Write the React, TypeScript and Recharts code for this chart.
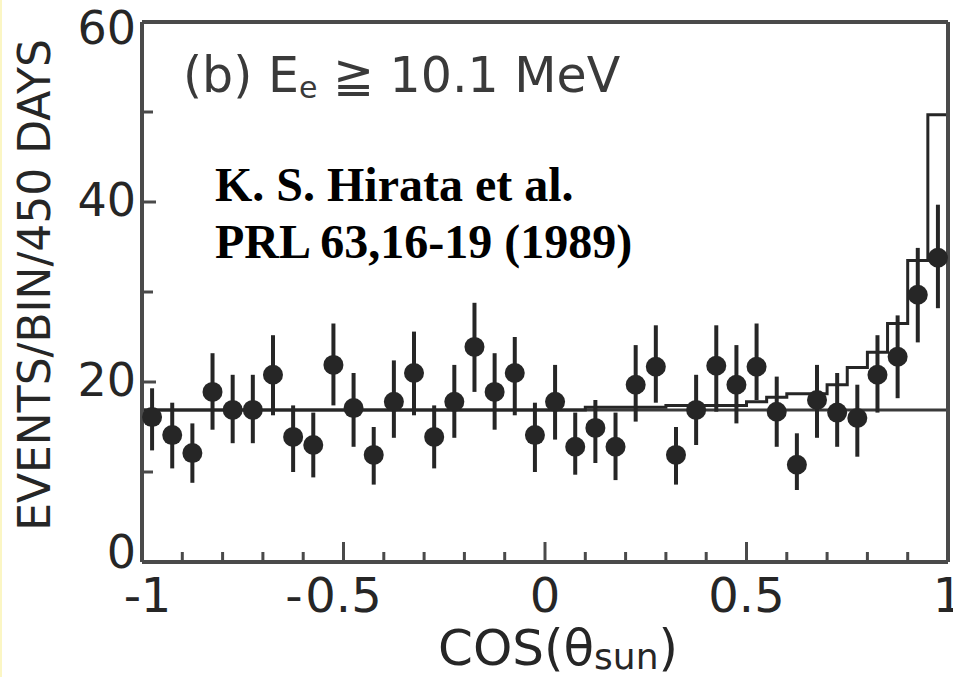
import React from 'react';
import { ComposedChart, Scatter, Line, XAxis, YAxis, ErrorBar, ReferenceLine, Customized } from 'recharts';

// cos(theta_sun) bin centres, 40 bins of width 0.05
const binCenters = [
  -0.975, -0.925, -0.875, -0.825, -0.775, -0.725, -0.675, -0.625, -0.575, -0.525,
  -0.475, -0.425, -0.375, -0.325, -0.275, -0.225, -0.175, -0.125, -0.075, -0.025,
  0.025, 0.075, 0.125, 0.175, 0.225, 0.275, 0.325, 0.375, 0.425, 0.475,
  0.525, 0.575, 0.625, 0.675, 0.725, 0.775, 0.825, 0.875, 0.925, 0.975,
];

// observed events per bin
const events = [
  16.1, 14.1, 12.1, 18.9, 16.9, 16.9, 20.8, 13.9, 13.0, 21.9,
  17.1, 11.9, 17.8, 21.0, 13.9, 17.8, 23.9, 18.9, 21.0, 14.1,
  17.8, 12.8, 14.9, 12.8, 19.7, 21.7, 11.9, 16.9, 21.8, 19.7,
  21.7, 16.7, 10.8, 18.0, 16.6, 16.0, 20.8, 22.8, 29.7, 33.8,
];

const errLow = [
  3.7, 3.7, 3.3, 4.2, 3.7, 3.7, 4.5, 3.9, 3.6, 4.5,
  4.3, 3.3, 4.0, 4.7, 3.5, 4.0, 5.0, 4.2, 4.7, 4.1,
  4.2, 3.1, 3.9, 3.7, 4.1, 4.0, 3.3, 3.9, 5.1, 4.3,
  3.7, 3.9, 2.8, 4.2, 3.8, 4.3, 4.2, 4.6, 5.3, 5.6,
];

const errHigh = [
  3.2, 3.6, 3.3, 4.3, 3.9, 3.9, 4.4, 3.5, 3.6, 4.6,
  3.9, 3.1, 4.6, 4.6, 3.5, 4.1, 4.9, 4.3, 4.0, 3.6,
  4.1, 3.8, 3.1, 3.8, 4.4, 4.6, 3.1, 3.9, 4.5, 4.4,
  4.8, 3.9, 3.5, 3.9, 4.4, 3.7, 4.4, 4.6, 5.2, 5.9,
];

// Monte Carlo expectation (histogram), bin edges and per-bin values
const binEdges = [
  -1, -0.95, -0.9, -0.85, -0.8, -0.75, -0.7, -0.65, -0.6, -0.55,
  -0.5, -0.45, -0.4, -0.35, -0.3, -0.25, -0.2, -0.15, -0.1, -0.05,
  0, 0.05, 0.1, 0.15, 0.2, 0.25, 0.3, 0.35, 0.4, 0.45,
  0.5, 0.55, 0.6, 0.65, 0.7, 0.75, 0.8, 0.85, 0.9, 0.95, 1,
];

const mcExpected = [
  16.9, 16.9, 16.9, 16.9, 16.9, 16.9, 16.9, 16.9, 16.9, 16.9,
  16.9, 16.9, 16.9, 16.9, 16.9, 16.9, 16.9, 16.9, 16.9, 16.9,
  16.9, 16.9, 17.2, 17.2, 17.2, 17.2, 17.4, 17.4, 17.4, 17.4,
  17.8, 18.3, 18.7, 18.7, 19.7, 21.6, 23.3, 26.5, 33.5, 49.7,
];

const flatLevel = 16.9;

const xTicks = [-1, -0.9, -0.8, -0.7, -0.6, -0.5, -0.4, -0.3, -0.2, -0.1, 0, 0.1, 0.2, 0.3, 0.4, 0.5, 0.6, 0.7, 0.8, 0.9, 1];
const xMajor = [-1, -0.5, 0, 0.5, 1];
const xTickLabels = ['-1', '-0.5', '0', '0.5', '1'];
const yTicks = [0, 10, 20, 30, 40, 50, 60];
const yMajor = [0, 20, 40, 60];
const yTickLabels = ['0', '20', '40', '60'];

const points = binCenters.map((x, i) => ({ x, y: events[i], err: [errLow[i], errHigh[i]] }));
const histogram = binEdges.map((x, i) => ({ x, mc: mcExpected[Math.min(i, mcExpected.length - 1)] }));

const INK = '#262626';
const FRAME = '#4a4a4a';
const SANS = '"DejaVu Sans", sans-serif';

const near = (a: number, b: number) => Math.abs(a - b) < 1e-6;

const BottomTick = (props: any) => {
  const { x, y, payload } = props;
  const k = xMajor.findIndex((m) => near(m, payload.value));
  const len = k >= 0 ? 20 : 10;
  const label = k >= 0 ? xTickLabels[k] : '';
  const neg = label.startsWith('-');
  const num = neg ? label.slice(1) : label;
  const nudge = near(payload.value, -1) ? 14 : 0;
  return (
    <g>
      <line x1={x} x2={x} y1={y} y2={y - len} stroke={FRAME} strokeWidth={3} />
      {k >= 0 && (
        <text x={x + nudge} y={y + 50} fontSize={48} fontFamily={SANS} fill={INK} textAnchor="middle">
          {num}
        </text>
      )}
      {neg && (
        <text x={x + nudge - num.length * 13 - 2} y={y + 50} fontSize={48} fontFamily={SANS} fill={INK} textAnchor="end">
          -
        </text>
      )}
    </g>
  );
};

const TopTick = (props: any) => {
  const { x, y, payload } = props;
  const len = xMajor.some((m) => near(m, payload.value)) ? 20 : 10;
  return <line x1={x} x2={x} y1={y} y2={y + len} stroke={FRAME} strokeWidth={3} />;
};

const LeftTick = (props: any) => {
  const { x, y, payload } = props;
  const k = yMajor.findIndex((m) => near(m, payload.value));
  const len = k >= 0 ? 14 : 11;
  const lift = near(payload.value, 0) ? -10 : near(payload.value, 60) ? 6 : -2;
  return (
    <g>
      <line x1={x} x2={x + len} y1={y} y2={y} stroke={FRAME} strokeWidth={3} />
      {k >= 0 && (
        <text x={x - 6} y={y + lift} dy={16} fontSize={46} fontFamily={SANS} fill={INK} textAnchor="end">
          {yTickLabels[k]}
        </text>
      )}
    </g>
  );
};

const RightTick = (props: any) => {
  const { x, y, payload } = props;
  const len = yMajor.some((m) => near(m, payload.value)) ? 14 : 11;
  return <line x1={x} x2={x - len} y1={y} y2={y} stroke={FRAME} strokeWidth={3} />;
};

const Dot = (props: any) => <circle cx={props.cx} cy={props.cy} r={10} fill={INK} />;

const Annotations = () => (
  <g>
    <text x={183} y={92} fontSize={49} fontFamily={SANS} fill="#3a3a3a">
      (b) E
      <tspan fontSize={30} dy={6}>e</tspan>
      <tspan dy={-6}> ≧ 10.1 MeV</tspan>
    </text>
    <text x={215} y={201} fontSize={48} fontWeight="bold" fontFamily='"Liberation Serif", "Times New Roman", serif' fill="#000">
      K. S. Hirata et al.
    </text>
    <text x={215} y={258} fontSize={48} fontWeight="bold" fontFamily='"Liberation Serif", "Times New Roman", serif' fill="#000">
      PRL 63,16-19 (1989)
    </text>
    <text transform="translate(50,285) rotate(-90)" fontSize={44} fontFamily={SANS} fill={INK} textAnchor="middle">
      EVENTS/BIN/450 DAYS
    </text>
    <text x={558} y={665} fontSize={50} fontFamily={SANS} fill={INK} textAnchor="middle">
      COS(θ
      <tspan fontSize={36} dy={4}>sun</tspan>
      <tspan dy={-4}>)</tspan>
    </text>
  </g>
);

export default function App() {
  return (
    <div style={{ position: 'absolute', left: 0, top: 0, width: 953, height: 677, background: '#fff' }}>
      <div style={{ position: 'absolute', left: 0, top: 0, width: 2, height: 677, background: '#fbf6c4' }} />
      <ComposedChart width={953} height={677} margin={{ top: 12, right: 0, bottom: 35, left: 62 }}>
        <XAxis
          dataKey="x"
          type="number"
          domain={[-1, 1]}
          ticks={xTicks}
          interval={0}
          height={80}
          tickSize={0}
          tickMargin={0}
          tickLine={false}
          axisLine={{ stroke: FRAME, strokeWidth: 4 }}
          tick={(p: any) => <BottomTick {...p} />}
        />
        <XAxis
          xAxisId="top"
          orientation="top"
          type="number"
          domain={[-1, 1]}
          ticks={xTicks}
          interval={0}
          height={10}
          tickSize={0}
          tickMargin={0}
          tickLine={false}
          axisLine={{ stroke: FRAME, strokeWidth: 4 }}
          tick={(p: any) => <TopTick {...p} />}
        />
        <YAxis
          type="number"
          domain={[0, 60]}
          ticks={yTicks}
          interval={0}
          width={80}
          tickSize={0}
          tickMargin={0}
          tickLine={false}
          axisLine={{ stroke: FRAME, strokeWidth: 4 }}
          tick={(p: any) => <LeftTick {...p} />}
        />
        <YAxis
          yAxisId="right"
          orientation="right"
          type="number"
          domain={[0, 60]}
          ticks={yTicks}
          interval={0}
          width={5}
          tickSize={0}
          tickMargin={0}
          tickLine={false}
          axisLine={{ stroke: FRAME, strokeWidth: 4 }}
          tick={(p: any) => <RightTick {...p} />}
        />
        <ReferenceLine y={flatLevel} stroke="#3a3a3a" strokeWidth={3} />
        <Line
          data={histogram}
          dataKey="mc"
          type="stepAfter"
          stroke={INK}
          strokeWidth={3}
          dot={false}
          isAnimationActive={false}
        />
        <Scatter data={points} dataKey="y" shape={Dot} isAnimationActive={false}>
          <ErrorBar dataKey="err" direction="y" width={0} stroke={INK} strokeWidth={4} />
        </Scatter>
        <Customized component={Annotations} />
      </ComposedChart>
    </div>
  );
}
